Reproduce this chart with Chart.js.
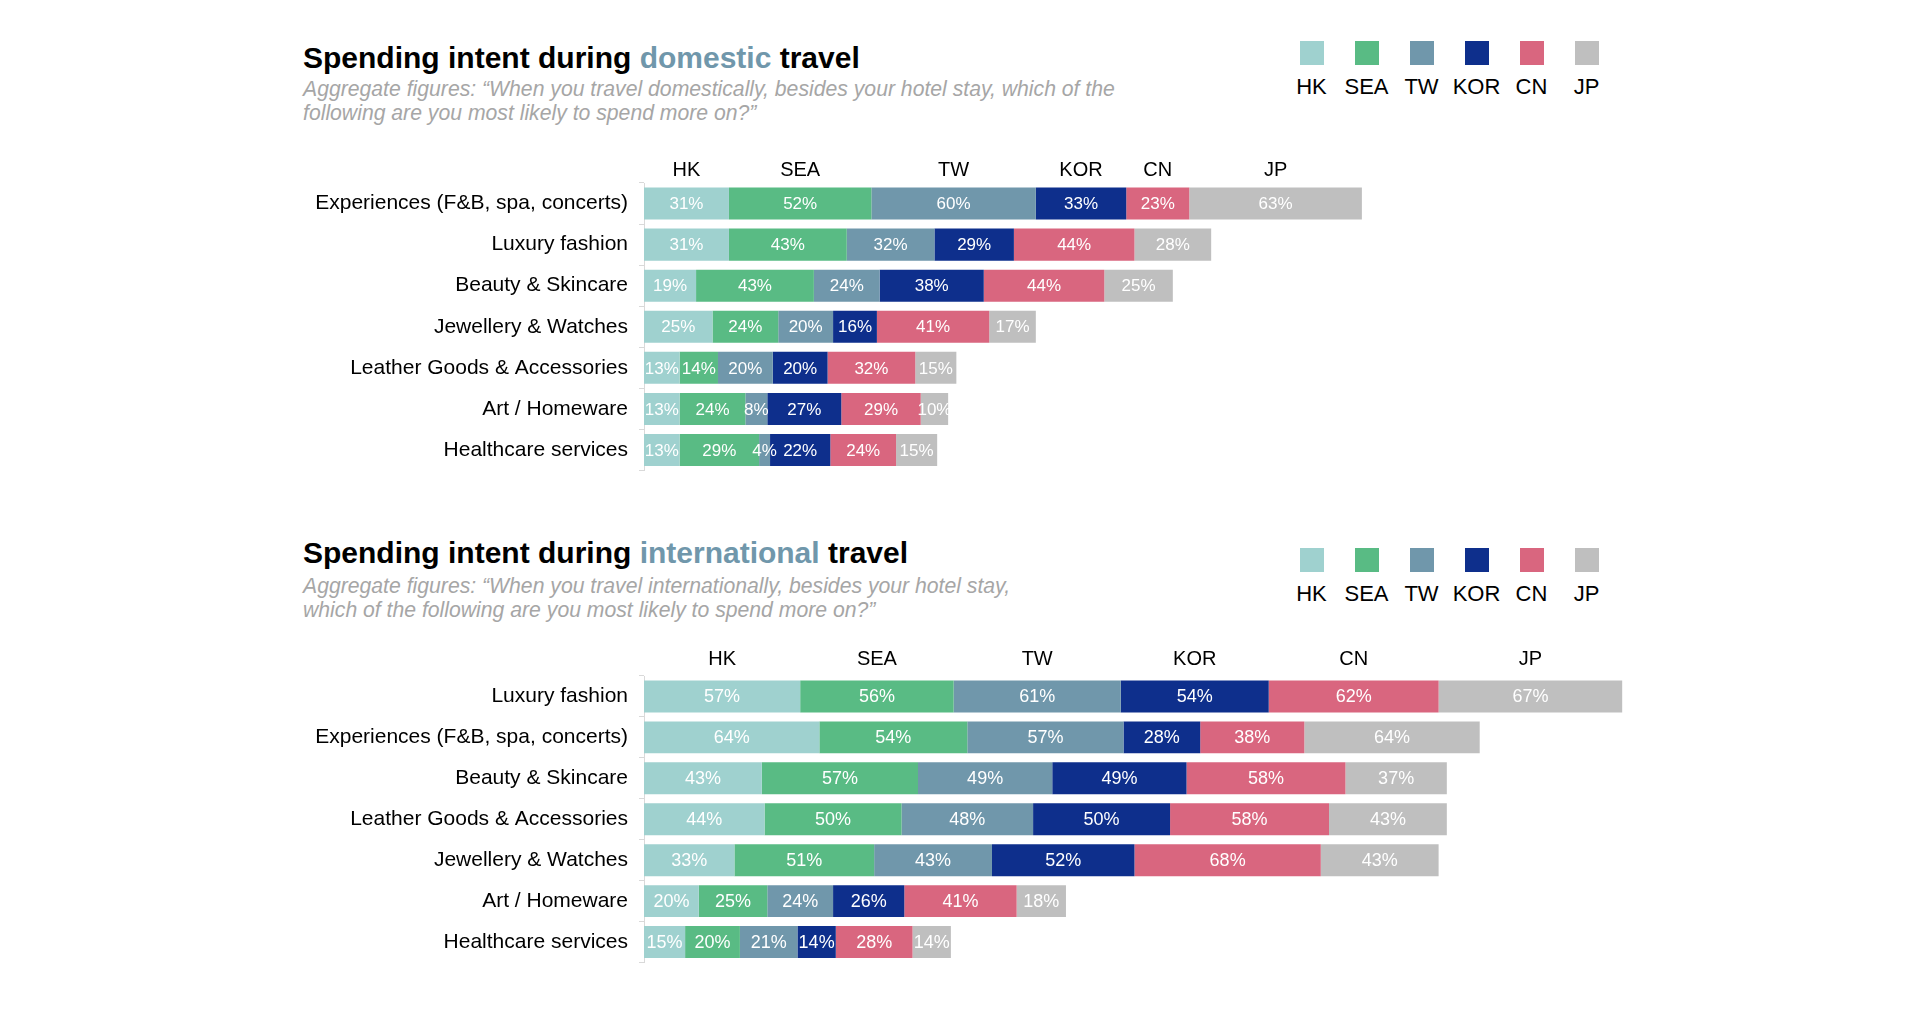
<!DOCTYPE html>
<html>
<head>
<meta charset="utf-8">
<script src="https://cdn.jsdelivr.net/npm/chart.js@4"></script>
<style>
    body { margin: 0; width: 1928px; height: 1009px; background: #fff; overflow: hidden; font-family: 'Liberation Sans', Arial, sans-serif; }
    .nadpis { position: absolute; left: 303px; font-size: 30px; font-weight: bold; line-height: 34px; color: #000; white-space: nowrap; }
    .nadpis span { color: #7097ab; }
    .podnadpis { position: absolute; left: 303px; font-size: 21.2px; font-style: italic; line-height: 24px; color: #a6a6a6; white-space: nowrap; }
    .legenda { position: absolute; left: 1284px; display: flex; }
    .legenda div { width: 55px; text-align: center; font-size: 22px; line-height: 26px; color: #000; }
    .legenda i { display: block; width: 24px; height: 24px; margin: 0 auto 9px auto; }
    .graf { position: absolute; left: 0; width: 1700px; height: 360px; }
</style>
</head>
<body>

<div class="nadpis" style="top:41px">Spending intent during <span>domestic</span> travel</div>
<div class="podnadpis" style="top:77px">Aggregate figures: “When you travel domestically, besides your hotel stay, which of the<br>following are you most likely to spend more on?”</div>
<div class="legenda" id="legenda1" style="top:41px"></div>
<div class="graf" style="top:130px"><canvas id="graf1"></canvas></div>

<div class="nadpis" style="top:536px">Spending intent during <span>international</span> travel</div>
<div class="podnadpis" style="top:574px">Aggregate figures: “When you travel internationally, besides your hotel stay,<br>which of the following are you most likely to spend more on?”</div>
<div class="legenda" id="legenda2" style="top:548px"></div>
<div class="graf" style="top:620px"><canvas id="graf2"></canvas></div>

<script>
// Krajiny (série)
const krajiny = ['HK', 'SEA', 'TW', 'KOR', 'CN', 'JP']

// Domáce cestovanie
const domKategorie = ['Experiences (F&B, spa, concerts)', 'Luxury fashion', 'Beauty & Skincare', 'Jewellery & Watches',
    'Leather Goods & Accessories', 'Art / Homeware', 'Healthcare services']
const domHK  = [31, 31, 19, 25, 13, 13, 13]
const domSEA = [52, 43, 43, 24, 14, 24, 29]
const domTW  = [60, 32, 24, 20, 20, 8, 4]
const domKOR = [33, 29, 38, 16, 20, 27, 22]
const domCN  = [23, 44, 44, 41, 32, 29, 24]
const domJP  = [63, 28, 25, 17, 15, 10, 15]

// Medzinárodné cestovanie
const intKategorie = ['Luxury fashion', 'Experiences (F&B, spa, concerts)', 'Beauty & Skincare', 'Leather Goods & Accessories',
    'Jewellery & Watches', 'Art / Homeware', 'Healthcare services']
const intHK  = [57, 64, 43, 44, 33, 20, 15]
const intSEA = [56, 54, 57, 50, 51, 25, 20]
const intTW  = [61, 57, 49, 48, 43, 24, 21]
const intKOR = [54, 28, 49, 50, 52, 26, 14]
const intCN  = [62, 38, 58, 58, 68, 41, 28]
const intJP  = [67, 64, 37, 43, 43, 18, 14]

const farby = ['#9fd1cf', '#59bb84', '#7097ab', '#0e2f8c', '#d9667f', '#bfbfbf']
const pismo = "'Liberation Sans', Arial, sans-serif"

// Legenda (HTML)
function legenda(id) {
    document.getElementById(id).innerHTML = krajiny
        .map((k, i) => `<div><i style="background:${farby[i]}"></i>${k}</div>`).join('')
}
legenda('legenda1')
legenda('legenda2')

// Popisky hodnôt v stĺpcoch + názvy krajín nad prvým riadkom
const popiskyPlugin = {
    id: 'popisky',
    afterDatasetsDraw(chart, args, opts) {
        const ctx = chart.ctx
        ctx.save()
        ctx.textAlign = 'center'
        ctx.textBaseline = 'middle'
        chart.data.datasets.forEach((ds, i) => {
            const meta = chart.getDatasetMeta(i)
            ctx.fillStyle = '#fff'
            ctx.font = `${opts.velkost}px ${pismo}`
            meta.data.forEach((el, j) => {
                ctx.fillText(ds.data[j] + '%', (el.x + el.base) / 2, el.y + 1)
            })
            const prvy = meta.data[0]
            ctx.fillStyle = '#000'
            ctx.font = `20px ${pismo}`
            ctx.fillText(ds.label, (prvy.x + prvy.base) / 2, chart.chartArea.top - opts.odsad)
        })
        ctx.restore()
    }
}

function vykresli(id, kategorie, serie, padding, velkost, odsad) {
    new Chart(document.getElementById(id), {
        type: 'bar',
        data: {
            labels: kategorie,
            datasets: serie.map((d, i) => ({
                label: krajiny[i], data: d, backgroundColor: farby[i],
                barPercentage: 0.78, categoryPercentage: 1
            }))
        },
        options: {
            indexAxis: 'y',
            responsive: true,
            maintainAspectRatio: false,
            animation: false,
            layout: { padding: padding },
            plugins: {
                legend: { display: false },
                tooltip: { enabled: false },
                popisky: { velkost, odsad }
            },
            scales: {
                x: { stacked: true, display: false, min: 0, max: 385.4 },
                y: {
                    stacked: true,
                    // pevná šírka osi a bez vlastného odsadenia hore/dole
                    afterFit: s => { s.width = 644; s.paddingTop = 0; s.paddingBottom = 0 },
                    grid: { drawOnChartArea: false, tickLength: 5, color: '#d9d9d9', offset: true },
                    border: { color: '#d9d9d9' },
                    ticks: { color: '#000', padding: 11, font: { family: pismo, size: 21 } }
                }
            }
        },
        plugins: [popiskyPlugin]
    })
}

vykresli('graf1', domKategorie, [domHK, domSEA, domTW, domKOR, domCN, domJP], { top: 53, bottom: 19.5 }, 17, 13)
vykresli('graf2', intKategorie, [intHK, intSEA, intTW, intKOR, intCN, intJP], { top: 56, bottom: 17.5 }, 18, 17)
</script>
</body>
</html>
